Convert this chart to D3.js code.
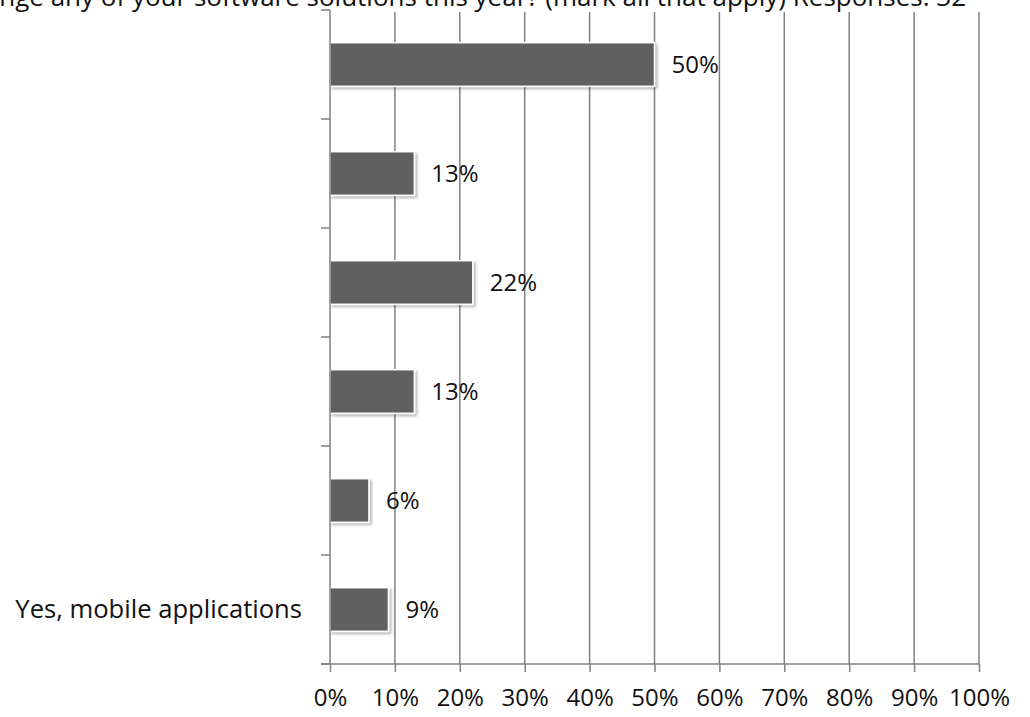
<!DOCTYPE html>
<html>
<head>
<meta charset="utf-8">
<script src="https://cdn.jsdelivr.net/npm/d3@7"></script>
<style>
  body { margin: 0; background: #fff; }
  text { font-family: "Open Sans", "DejaVu Sans", sans-serif; fill: #111; }
</style>
</head>
<body>
<div id="chart"></div>
<script>
// chart data (top to bottom)
let categories = ["", "", "", "", "", "Yes, mobile applications"];
let values = [50, 13, 22, 13, 6, 9];
let tickValues = [0, 10, 20, 30, 40, 50, 60, 70, 80, 90, 100];
let titleText = "Do you plan to change any of your software solutions this year? (mark all that apply) Responses: 32";

let svgWidth = 1030;
let svgHeight = 717;

let margin = { top: 10, right: 51, bottom: 53, left: 330 };
let width = svgWidth - margin.left - margin.right;
let height = svgHeight - margin.top - margin.bottom;

var svg = d3.select("#chart")
    .append("svg")
    .attr("width", svgWidth)
    .attr("height", svgHeight);

// soft shadow under the bars
var defs = svg.append("defs");
defs.append("filter")
    .attr("id", "shadow")
    .attr("x", "-10%").attr("y", "-20%")
    .attr("width", "130%").attr("height", "160%")
    .append("feDropShadow")
    .attr("dx", 2).attr("dy", 2)
    .attr("stdDeviation", 1.5)
    .attr("flood-color", "#000")
    .attr("flood-opacity", 0.3);

// title, mostly cut off at the top of the picture (as in the source image)
svg.append("text")
    .attr("x", 966)
    .attr("y", 6)
    .attr("text-anchor", "end")
    .attr("font-size", "26px")
    .text(titleText);

var chartGroup = svg.append("g")
    .attr("transform", `translate(${margin.left}, ${margin.top})`);

var xScale = d3.scaleLinear().domain([0, 100]).range([0, width]);
var yScale = d3.scaleBand().domain(d3.range(categories.length)).range([0, height]).paddingInner(0.6).paddingOuter(0.3);

// vertical grid lines
chartGroup.selectAll(".grid")
    .data(tickValues.slice(1))
    .enter()
    .append("line")
    .attr("x1", d => xScale(d))
    .attr("x2", d => xScale(d))
    .attr("y1", 2)
    .attr("y2", height)
    .attr("stroke", "#808080")
    .attr("stroke-width", 1.5);

// bars
chartGroup.selectAll("rect.bar")
    .data(values)
    .enter()
    .append("rect")
    .attr("class", "bar")
    .attr("x", 0)
    .attr("y", (d, i) => yScale(i))
    .attr("width", d => xScale(d))
    .attr("height", yScale.bandwidth())
    .attr("fill", "#606060")
    .attr("stroke", "#fff")
    .attr("stroke-width", 1.5)
    .attr("filter", "url(#shadow)");

// value labels
chartGroup.selectAll("text.val")
    .data(values)
    .enter()
    .append("text")
    .attr("class", "val")
    .attr("x", d => xScale(d) + 17)
    .attr("y", (d, i) => yScale(i) + yScale.bandwidth() / 2)
    .attr("dy", "0.35em")
    .attr("font-size", "24px")
    .text(d => d + "%");

// category labels
chartGroup.selectAll("text.cat")
    .data(categories)
    .enter()
    .append("text")
    .attr("class", "cat")
    .attr("x", -28)
    .attr("y", (d, i) => yScale(i) + yScale.bandwidth() / 2)
    .attr("dy", "0.35em")
    .attr("text-anchor", "end")
    .attr("font-size", "25.6px")
    .text(d => d);

// x axis
var bottomAxis = d3.axisBottom(xScale)
    .tickValues(tickValues)
    .tickFormat(d => d + "%")
    .tickSize(8)
    .tickSizeOuter(0)
    .tickPadding(17);

var xAxis = chartGroup.append("g")
    .attr("transform", `translate(0, ${height})`)
    .call(bottomAxis);

xAxis.select(".domain").attr("d", `M-9,0H${width}`);
xAxis.selectAll("path, line").attr("stroke", "#808080").attr("stroke-width", 1.5);
xAxis.selectAll("text")
    .attr("font-size", "24px")
    .attr("font-family", "Open Sans, DejaVu Sans, sans-serif")
    .attr("fill", "#111");

// y axis with ticks on the band boundaries
var bandEdges = d3.range(categories.length + 1).map(i => i * height / categories.length);
chartGroup.append("line")
    .attr("x1", 0).attr("x2", 0)
    .attr("y1", 0).attr("y2", height)
    .attr("stroke", "#808080")
    .attr("stroke-width", 1.5);

chartGroup.selectAll(".ytick")
    .data(bandEdges)
    .enter()
    .append("line")
    .attr("x1", -9).attr("x2", 0)
    .attr("y1", d => d).attr("y2", d => d)
    .attr("stroke", "#808080")
    .attr("stroke-width", 1.5);
</script>
</body>
</html>
